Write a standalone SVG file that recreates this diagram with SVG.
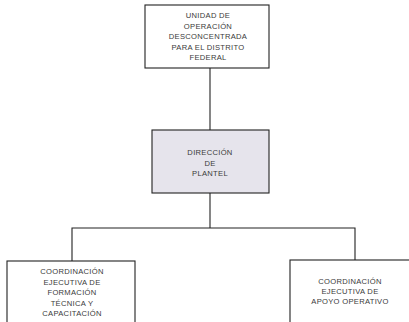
<svg xmlns="http://www.w3.org/2000/svg" width="409" height="322" viewBox="0 0 409 322">
<style>
.box{fill:#ffffff;stroke:#222;stroke-width:1.1}
.gray{fill:#e6e4ec}
.t{font-family:"Liberation Sans",Arial,sans-serif;font-size:7.6px;fill:#3a3a3a;text-anchor:middle;letter-spacing:0.3px}
.c{fill:none;stroke:#222;stroke-width:1.1}
</style>
<rect width="409" height="322" fill="#ffffff"/>
<g id="connectors">
<path class="c" d="M210 68 V130"/>
<path class="c" d="M210 193 V228"/>
<path class="c" d="M72 261 V228 H355 V260"/>
</g>
<g id="n1">
<rect class="box" x="145" y="5" width="124" height="63"/>
<text class="t" x="208" y="18">UNIDAD DE</text>
<text class="t" x="208" y="28.5">OPERACIÓN</text>
<text class="t" x="208" y="39">DESCONCENTRADA</text>
<text class="t" x="208" y="49.5">PARA EL DISTRITO</text>
<text class="t" x="208" y="60">FEDERAL</text>
</g>
<g id="n2">
<rect class="box gray" x="152" y="130" width="117" height="63"/>
<text class="t" x="210" y="155">DIRECCIÓN</text>
<text class="t" x="210" y="166">DE</text>
<text class="t" x="210" y="176">PLANTEL</text>
</g>
<g id="n3">
<rect class="box" x="7" y="261" width="128" height="70"/>
<text class="t" x="72" y="274">COORDINACIÓN</text>
<text class="t" x="72" y="284.5">EJECUTIVA DE</text>
<text class="t" x="72" y="295">FORMACIÓN</text>
<text class="t" x="72" y="305.5">TÉCNICA Y</text>
<text class="t" x="72" y="316">CAPACITACIÓN</text>
</g>
<g id="n4">
<rect class="box" x="290" y="260" width="128" height="70"/>
<text class="t" x="350" y="284">COORDINACIÓN</text>
<text class="t" x="350" y="294">EJECUTIVA DE</text>
<text class="t" x="350" y="304">APOYO OPERATIVO</text>
</g>
</svg>
